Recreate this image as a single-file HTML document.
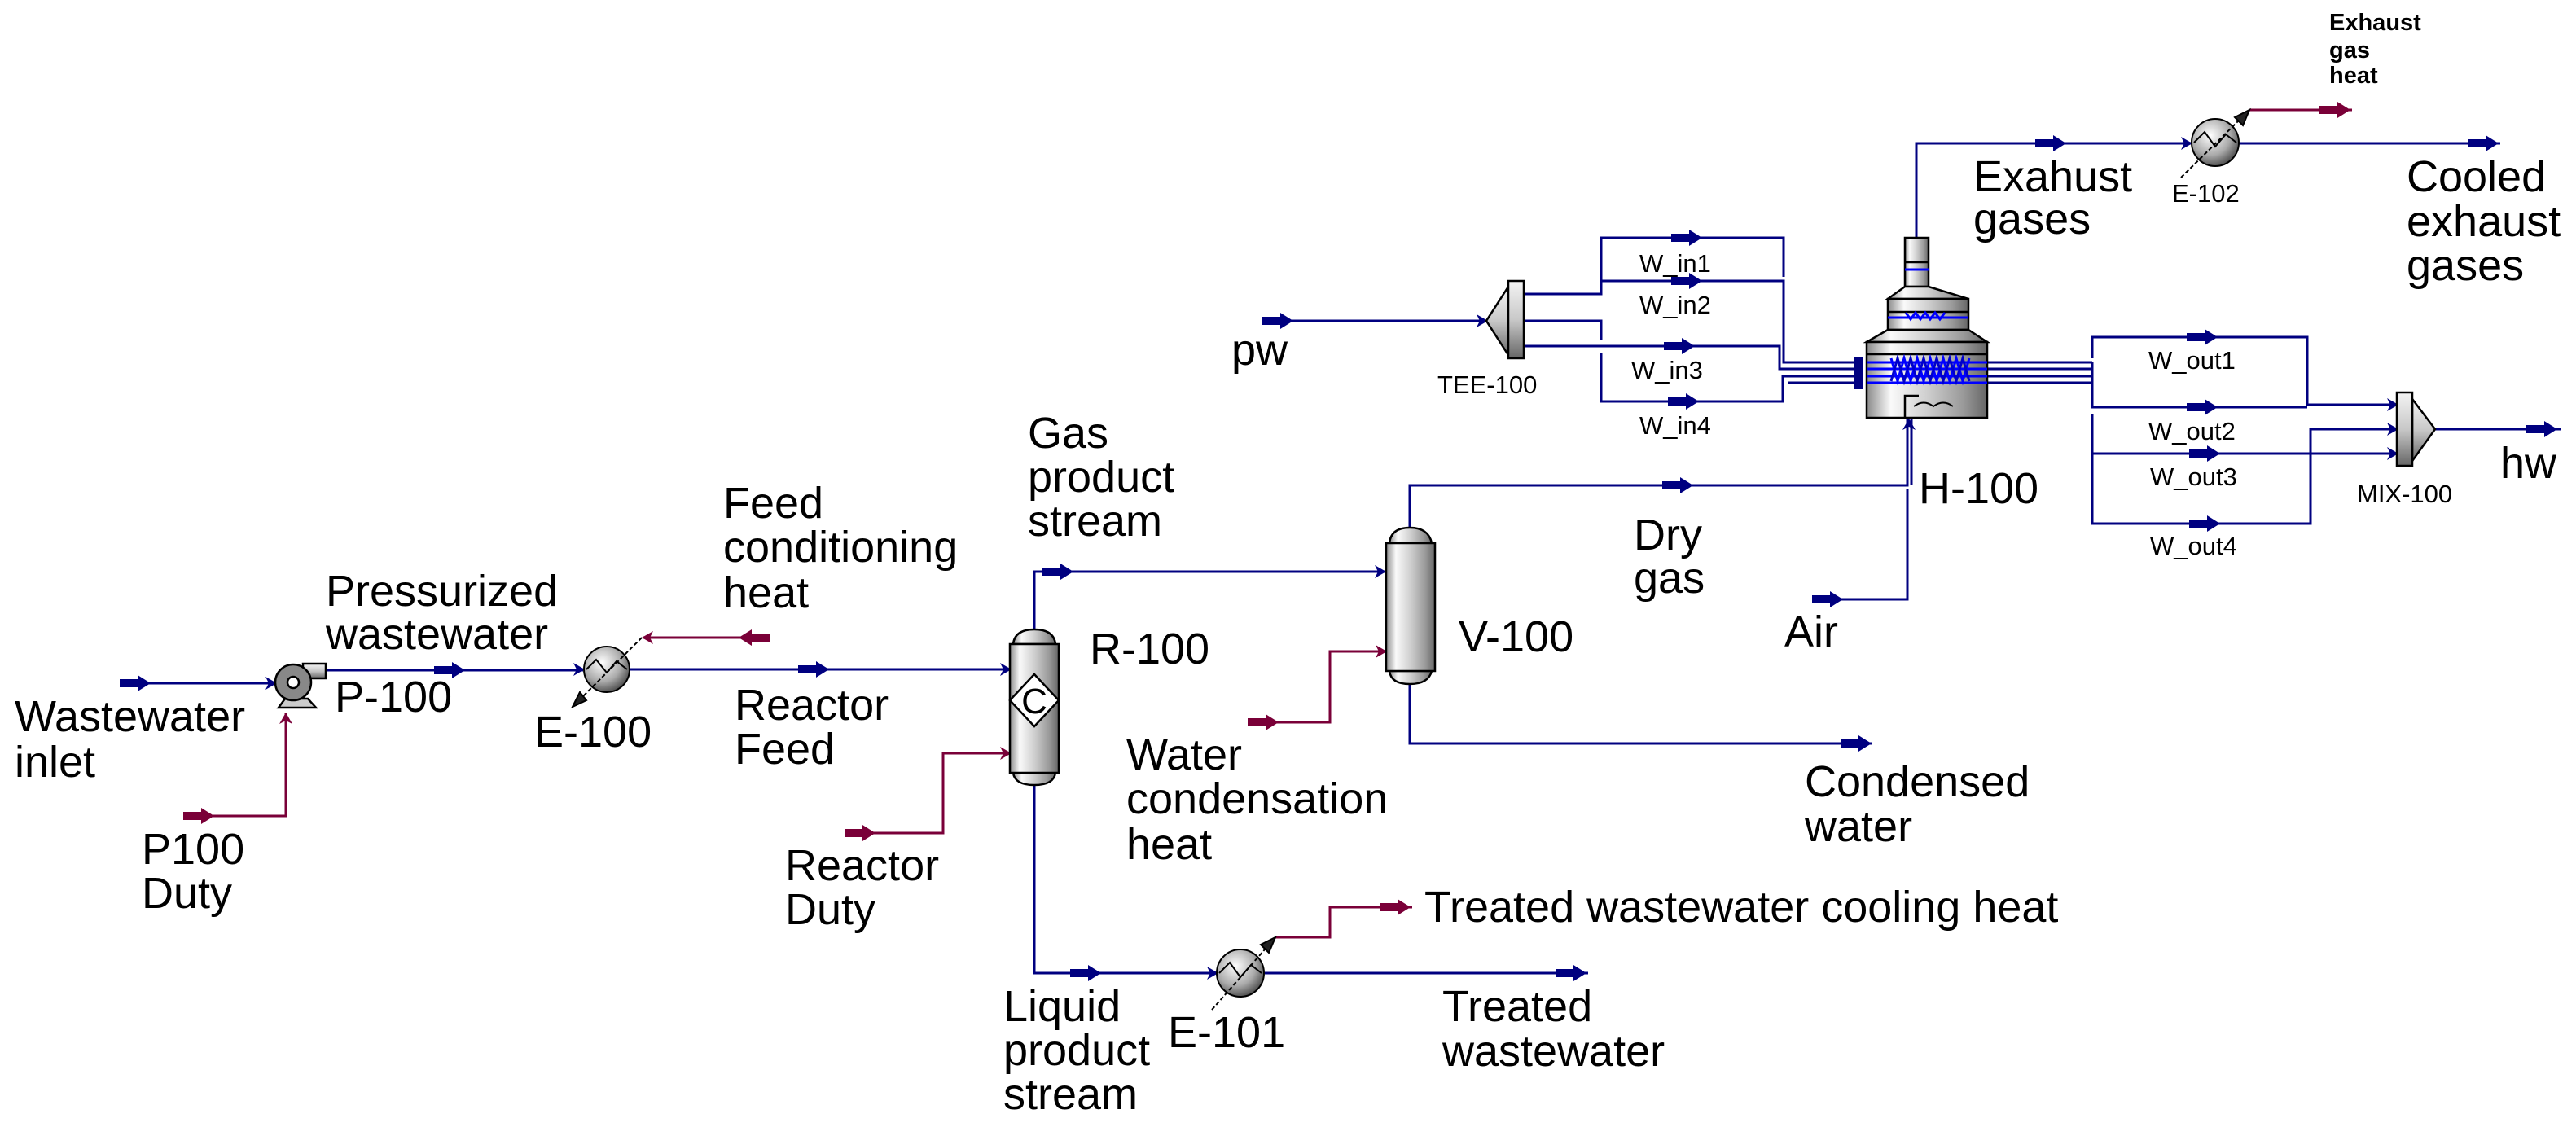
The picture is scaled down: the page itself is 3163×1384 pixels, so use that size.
<!DOCTYPE html>
<html><head><meta charset="utf-8"><style>
html,body{margin:0;padding:0;background:#fff;}
svg{display:block}
text{font-family:"Liberation Sans",Arial,sans-serif;fill:#000}
.L{font-size:54px}
.S{font-size:31px}
</style></head><body>
<svg width="3163" height="1384" viewBox="0 0 3163 1384" xmlns="http://www.w3.org/2000/svg">
<defs>
<linearGradient id="cyl" x1="0" x2="1" y1="0" y2="0">
<stop offset="0" stop-color="#8a8a8a"/><stop offset="0.2" stop-color="#fafafa"/><stop offset="0.5" stop-color="#cfcfcf"/><stop offset="0.8" stop-color="#9a9a9a"/><stop offset="1" stop-color="#666"/>
</linearGradient>
<radialGradient id="ball" cx="0.4" cy="0.35" r="0.7">
<stop offset="0" stop-color="#fff"/><stop offset="0.6" stop-color="#aaa"/><stop offset="1" stop-color="#444"/>
</radialGradient>
<linearGradient id="tee" x1="0" x2="0" y1="0" y2="1">
<stop offset="0" stop-color="#f4f4f4"/><stop offset="0.5" stop-color="#c8c8c8"/><stop offset="1" stop-color="#666"/>
</linearGradient>
<path id="A" d="M-20,-5 H2 V-10 L18,0 L2,10 V5 H-20 Z"/>
<path id="H" d="M-12,-8 L2,0 L-12,8 L-8,0 Z"/>
</defs>

<g fill="none" stroke="#000080" stroke-width="3">
<!-- left -->
<path d="M150,839 H338"/>
<path d="M400,823 H716"/>
<path d="M774,822 H1240"/>
<path d="M1270,773 V702 H1700"/>
<path d="M1270,964 V1195 H1494"/>
<path d="M1553,1195 H1950"/>
<path d="M1731,648 V596 H2342 V514"/>
<path d="M2347,596 V514"/>
<path d="M1731,840 V913 H2298"/>
<path d="M2232,736 H2342 V600"/>
<!-- exhaust -->
<path d="M2353,292 V176 H2690"/>
<path d="M2749,176 H3070"/>
<!-- pw / tee -->
<path d="M1552,394 H1825"/>
<path d="M1871,361 H1966 V292 H2190 V340"/>
<path d="M1966,345 H2190 V445 H2288"/>
<path d="M1871,394 H1966 V418"/>
<path d="M1966,433 V493 H2189 V462 H2288"/>
<path d="M1871,425 H2185 V453 H2288"/>
<path d="M2196,470 H2288"/>
<!-- outlets -->
<path d="M2440,445 H2569"/><path d="M2440,453 H2569"/><path d="M2440,462 H2569"/><path d="M2440,470 H2569"/>
<path d="M2569,440 V414 H2833 V497 H2943"/>
<path d="M2569,445 V500 H2833"/>
<path d="M2569,508 V643 H2837 V527 H2943"/>
<path d="M2569,557 H2943"/>
<path d="M2990,527 H3144"/>
</g>

<g fill="none" stroke="#7a0038" stroke-width="3">
<path d="M228,1002 H351 V875"/>
<path d="M946,783 H790"/>
<path d="M1040,1023 H1158 V925 H1240"/>
<path d="M1535,887 H1633 V800 H1701"/>
<path d="M1566,1151 H1633 V1114 H1734"/>
<path d="M2762,135 H2888"/>
</g>

<!-- big arrows blue -->
<g fill="#000080">
<use href="#A" x="167" y="839"/>
<use href="#A" x="553" y="823"/>
<use href="#A" x="1000" y="822"/>
<use href="#A" x="1300" y="702"/>
<use href="#A" x="1334" y="1195"/>
<use href="#A" x="1930" y="1195"/>
<use href="#A" x="2061" y="596"/>
<use href="#A" x="2280" y="913"/>
<use href="#A" x="2245" y="736"/>
<use href="#A" x="2519" y="176"/>
<use href="#A" x="3050" y="176"/>
<use href="#A" x="1570" y="394"/>
<use href="#A" x="2072" y="292"/>
<use href="#A" x="2072" y="345"/>
<use href="#A" x="2063" y="425"/>
<use href="#A" x="2068" y="493"/>
<use href="#A" x="2705" y="414"/>
<use href="#A" x="2705" y="500"/>
<use href="#A" x="2708" y="557"/>
<use href="#A" x="2708" y="643"/>
<use href="#A" x="3122" y="527"/>
<!-- small heads -->
<use href="#H" x="338" y="839"/>
<use href="#H" x="716" y="822"/>
<use href="#H" x="1240" y="822"/>
<use href="#H" x="1700" y="702"/>
<use href="#H" x="1494" y="1195"/>
<use href="#H" x="2690" y="176"/>
<use href="#H" x="1825" y="394"/>
<use href="#H" x="2943" y="497"/>
<use href="#H" x="2943" y="527"/>
<use href="#H" x="2943" y="557"/>
<use href="#H" transform="translate(2344,516) rotate(-90)"/>
<rect x="2276" y="438" width="12" height="40"/>
</g>
<g fill="#7a0038">
<use href="#A" x="245" y="1002"/>
<use href="#A" transform="translate(925,783) rotate(180)"/>
<use href="#A" x="1057" y="1023"/>
<use href="#A" x="1552" y="887"/>
<use href="#A" x="1714" y="1114"/>
<use href="#A" x="2868" y="135"/>
<use href="#H" transform="translate(351,877) rotate(-90)"/>
<use href="#H" transform="translate(790,783) rotate(180)"/>
<use href="#H" x="1240" y="925"/>
<use href="#H" x="1701" y="800"/>
</g>

<!-- Pump -->
<g stroke="#000" stroke-width="2.5">
<rect x="372" y="815" width="28" height="18" fill="url(#tee)"/>
<path d="M342,869 L350,858 H378 L388,869 Z" fill="#ccc"/>
<circle cx="360" cy="838" r="22" fill="#888"/>
<circle cx="360" cy="838" r="7" fill="#fff"/>
</g>

<!-- heat exchangers -->
<g stroke="#000" stroke-width="2">
<circle cx="745" cy="822" r="28" fill="url(#ball)"/>
<path d="M720,822 L732,810 L745,826 L757,812 L770,822" fill="none"/>
<path d="M788,783 L706,865" stroke-dasharray="5,3"/>
<path d="M703,868 L712,850 L720,860 Z" fill="#222"/>
<circle cx="1523" cy="1195" r="29" fill="url(#ball)"/>
<path d="M1497,1195 L1510,1182 L1523,1200 L1536,1185 L1549,1195" fill="none"/>
<path d="M1488,1240 L1560,1158" stroke-dasharray="5,3"/>
<path d="M1566,1151 L1548,1160 L1558,1170 Z" fill="#222"/>
<circle cx="2720" cy="175" r="29" fill="url(#ball)"/>
<path d="M2694,175 L2707,162 L2720,180 L2733,165 L2746,175" fill="none"/>
<path d="M2678,218 L2756,141" stroke-dasharray="5,3"/>
<path d="M2762,135 L2744,144 L2754,154 Z" fill="#222"/>
</g>

<!-- R-100 -->
<g stroke="#000" stroke-width="2.5" fill="url(#cyl)">
<path d="M1244,791 Q1246,773 1270,773 Q1294,773 1296,791 Z"/>
<path d="M1244,949 Q1246,964 1270,964 Q1294,964 1296,949 Z"/>
<rect x="1240" y="791" width="60" height="158"/>
<path d="M1270,828 L1300,860 L1270,892 L1240,860 Z" fill="#fff"/>
</g>
<text x="1270" y="876" font-size="44" text-anchor="middle">C</text>

<!-- V-100 -->
<g stroke="#000" stroke-width="2.5" fill="url(#cyl)">
<path d="M1706,667 Q1708,648 1731,648 Q1754,648 1758,667 Z"/>
<path d="M1706,824 Q1708,840 1731,840 Q1754,840 1758,824 Z"/>
<rect x="1702" y="667" width="60" height="157"/>
</g>

<!-- TEE -->
<g stroke="#000" stroke-width="2.5">
<path d="M1852,352 L1825,394 L1852,436 Z" fill="url(#tee)"/>
<rect x="1852" y="345" width="19" height="95" fill="url(#tee)"/>
</g>
<!-- MIX -->
<g stroke="#000" stroke-width="2.5">
<path d="M2962,490 L2990,527 L2962,566 Z" fill="url(#tee)"/>
<rect x="2943" y="482" width="19" height="90" fill="url(#tee)"/>
</g>

<!-- Furnace H-100 -->
<g stroke="#000" stroke-width="2.5" fill="url(#cyl)">
<rect x="2339" y="292" width="29" height="60"/>
<path d="M2339,352 H2368 L2417,367 H2318 Z"/>
<rect x="2318" y="367" width="99" height="38"/>
<path d="M2318,405 H2417 L2440,420 H2292 Z"/>
<rect x="2292" y="420" width="148" height="93"/>
<line x1="2292" y1="435" x2="2440" y2="435"/>
<line x1="2318" y1="383" x2="2417" y2="383"/>
<line x1="2339" y1="322" x2="2368" y2="322"/>
<path d="M2339,513 V486 H2356" fill="none"/>
<path d="M2350,499 Q2362,490 2374,499 Q2386,490 2398,499" fill="none" stroke-width="2"/>
</g>
<g stroke="#0000ff" stroke-width="3" fill="none">
<path d="M2339,331 H2368"/>
<path d="M2318,390 H2417"/>
<path d="M2340,384 l6,8 l6,-8 l6,8 l6,-8 l6,8 l6,-8 l6,8 l6,-8"/>
<path d="M2292,445 H2440 M2292,453 H2440 M2292,462 H2440 M2292,470 H2440"/>
<path d="M2322,440 l8,28 l8,-28 l8,28 l8,-28 l8,28 l8,-28 l8,28 l8,-28 l8,28 l8,-28 l8,28 l8,-28"/>
<path d="M2322,468 l8,-28 l8,28 l8,-28 l8,28 l8,-28 l8,28 l8,-28 l8,28 l8,-28 l8,28 l8,-28 l8,28" stroke="#0000cc"/>
</g>

<!-- Labels -->
<text class="L" x="18" y="898">Wastewater</text>
<text class="L" x="18" y="954">inlet</text>
<text class="L" x="400" y="744">Pressurized</text>
<text class="L" x="400" y="797">wastewater</text>
<text class="L" x="411" y="874">P-100</text>
<text class="L" x="656" y="917">E-100</text>
<text class="L" x="888" y="636">Feed</text>
<text class="L" x="888" y="690">conditioning</text>
<text class="L" x="888" y="746">heat</text>
<text class="L" x="902" y="884">Reactor</text>
<text class="L" x="902" y="938">Feed</text>
<text class="L" x="1338" y="815">R-100</text>
<text class="L" x="174" y="1061">P100</text>
<text class="L" x="174" y="1115">Duty</text>
<text class="L" x="964" y="1081">Reactor</text>
<text class="L" x="964" y="1135">Duty</text>
<text class="L" x="1232" y="1254">Liquid</text>
<text class="L" x="1232" y="1308">product</text>
<text class="L" x="1232" y="1362">stream</text>
<text class="L" x="1434" y="1286">E-101</text>
<text class="L" x="1771" y="1254">Treated</text>
<text class="L" x="1771" y="1309">wastewater</text>
<text class="L" x="1749" y="1132">Treated wastewater cooling heat</text>
<text class="L" x="1262" y="550">Gas</text>
<text class="L" x="1262" y="604">product</text>
<text class="L" x="1262" y="658">stream</text>
<text class="L" x="1383" y="945">Water</text>
<text class="L" x="1383" y="999">condensation</text>
<text class="L" x="1383" y="1055">heat</text>
<text class="L" x="1791" y="800">V-100</text>
<text class="L" x="2006" y="675">Dry</text>
<text class="L" x="2006" y="728">gas</text>
<text class="L" x="2216" y="978">Condensed</text>
<text class="L" x="2216" y="1033">water</text>
<text class="L" x="2191" y="794">Air</text>
<text class="L" x="2356" y="618">H-100</text>
<text class="L" x="1512" y="448">pw</text>
<text class="L" x="2423" y="235">Exahust</text>
<text class="L" x="2423" y="287">gases</text>
<text class="L" x="2955" y="235">Cooled</text>
<text class="L" x="2955" y="290">exhaust</text>
<text class="L" x="2955" y="344">gases</text>
<text class="L" x="3070" y="587">hw</text>
<text class="S" x="1765" y="483">TEE-100</text>
<text class="S" x="2013" y="334">W_in1</text>
<text class="S" x="2013" y="385">W_in2</text>
<text class="S" x="2003" y="465">W_in3</text>
<text class="S" x="2013" y="533">W_in4</text>
<text class="S" x="2638" y="453">W_out1</text>
<text class="S" x="2638" y="540">W_out2</text>
<text class="S" x="2640" y="596">W_out3</text>
<text class="S" x="2640" y="681">W_out4</text>
<text class="S" x="2894" y="617">MIX-100</text>
<text class="S" x="2667" y="248">E-102</text>
<text x="2860" y="37" font-size="29" font-weight="bold">Exhaust</text>
<text x="2860" y="71" font-size="29" font-weight="bold">gas</text>
<text x="2860" y="102" font-size="29" font-weight="bold">heat</text>
</svg>
</body></html>
